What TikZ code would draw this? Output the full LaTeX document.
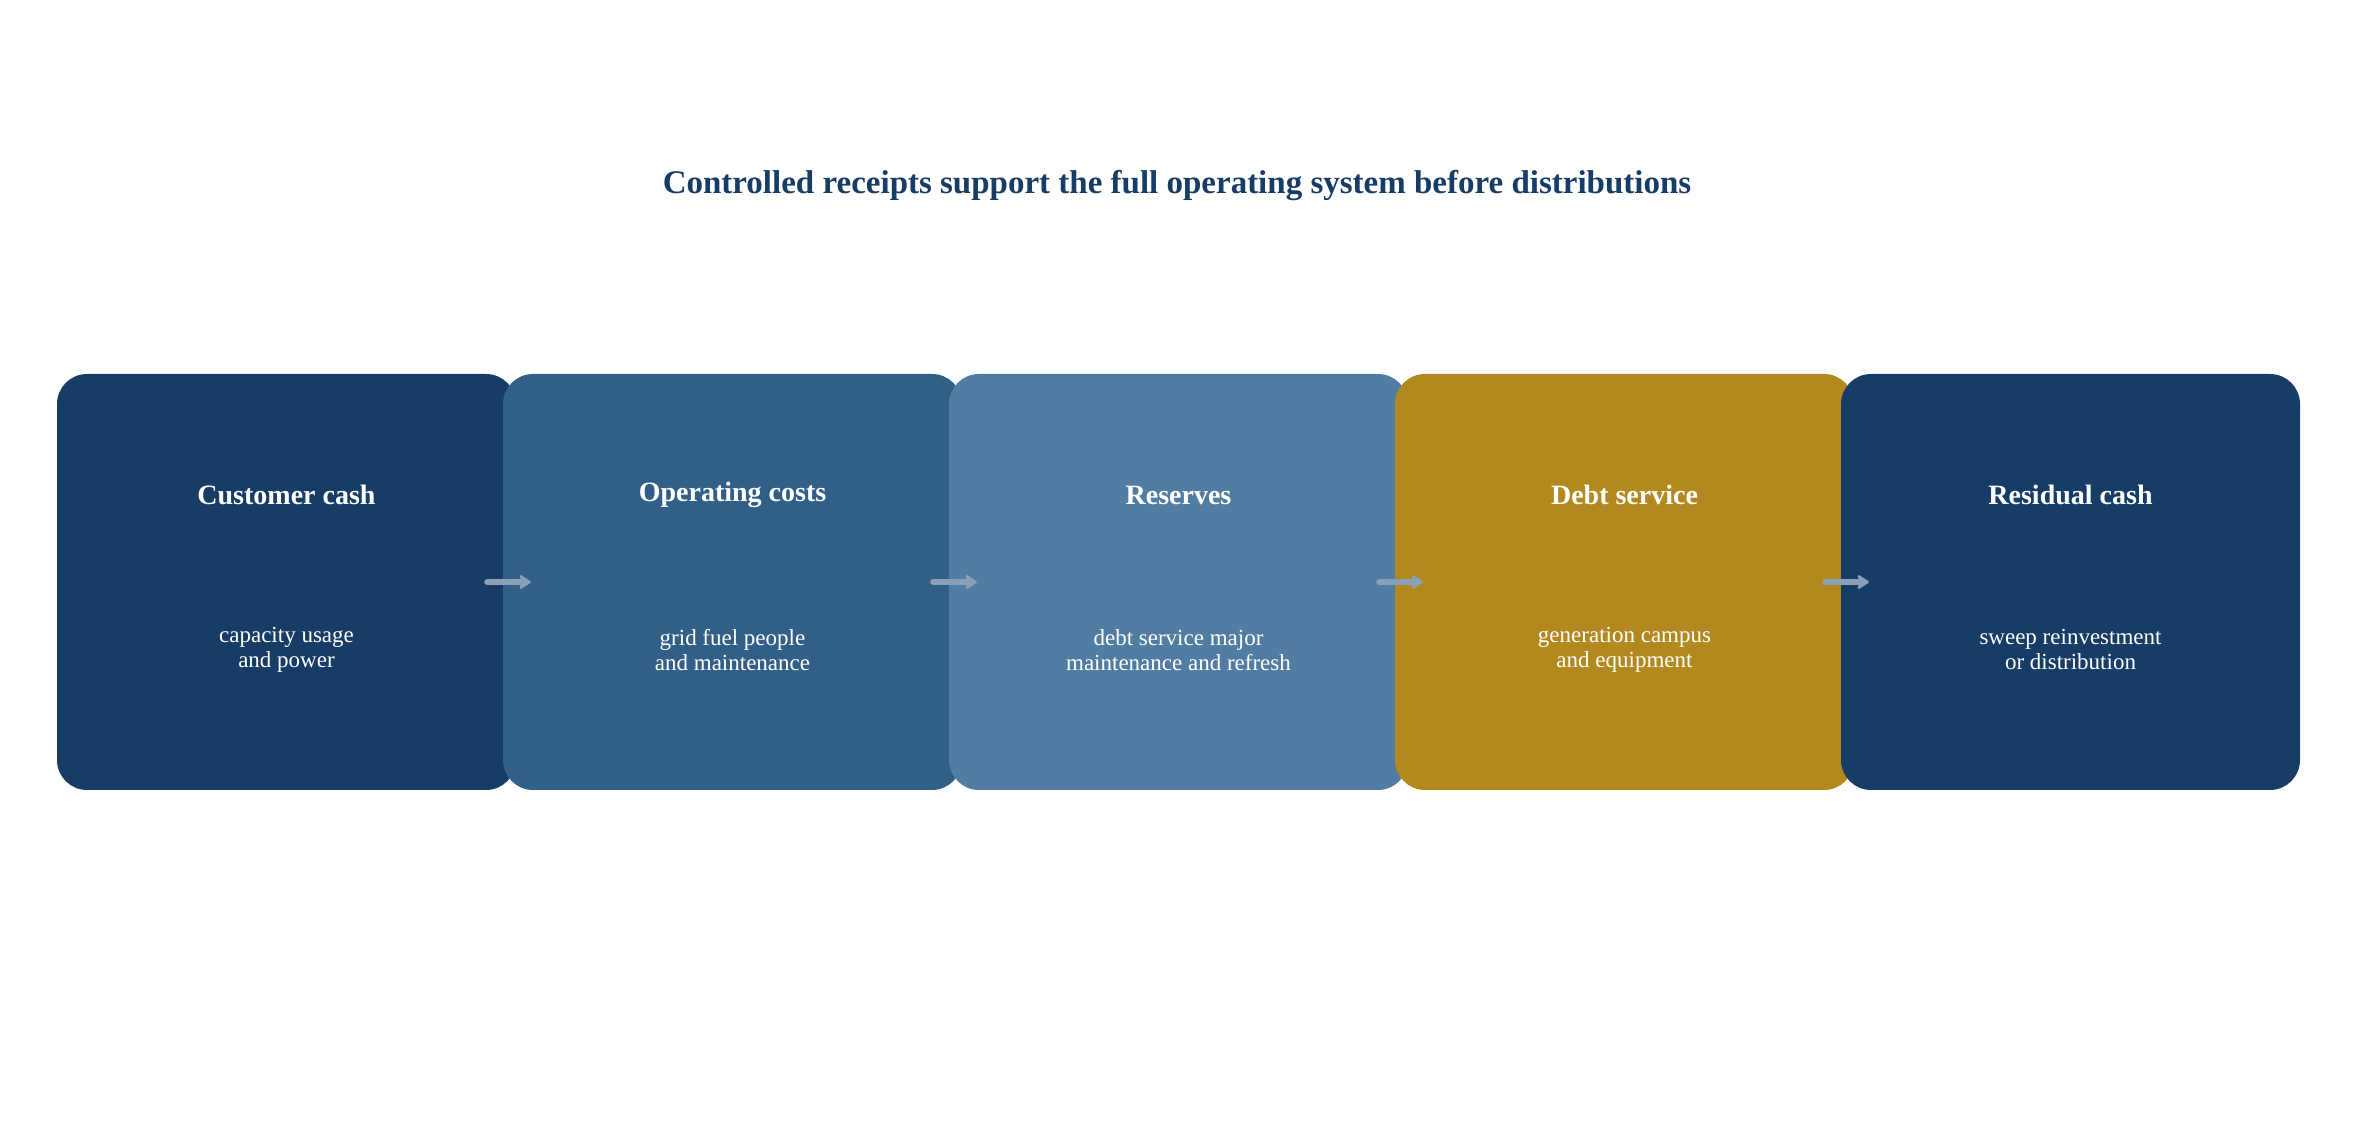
\documentclass[tikz,border=0pt]{standalone}
\usepackage{fontspec}
\setmainfont{Liberation Serif}
\usetikzlibrary{positioning,arrows.meta}
\definecolor{navy}{HTML}{173C66}
\definecolor{midblue}{HTML}{315F88}
\definecolor{lightblue}{HTML}{527DA3}
\definecolor{gold}{HTML}{B3891F}
\definecolor{arrowgrey}{HTML}{8A9FB8}
\tikzset{
  stage/.style={rounded corners=30pt, minimum width=459pt, minimum height=416pt, inner sep=0pt},
  head/.style={text=white, font=\fontsize{28}{32}\selectfont\bfseries},
  desc/.style={text=white, align=center, font=\fontsize{23}{25}\selectfont},
  flow/.style={arrowgrey, line width=6pt, line cap=round, -{Stealth[length=14pt,width=18pt,round]}}
}
\begin{document}
\begin{tikzpicture}[x=1pt,y=1pt]
\useasboundingbox (0,0) rectangle (2354,1144);

%titulo
\node (title) at (1177,958) {\fontsize{33}{38}\selectfont\bfseries\color{navy}Controlled receipts support the full operating system before distributions};

%caixas
\node[stage, fill=navy] (b1) at (286.5,562) {};
\node[stage, fill=midblue] (b2) at (732.5,562) {};
\node[stage, fill=lightblue] (b3) at (1178.5,562) {};
\node[stage, fill=gold] (b4) at (1624.5,562) {};
\node[stage, fill=navy] (b5) at (2070.5,562) {};

%textos
\node[head] (h1) at ([yshift=87pt]b1.center) {Customer cash};
\node[head] (h2) at ([yshift=87pt]b2.center) {Operating costs};
\node[head] (h3) at ([yshift=87pt]b3.center) {Reserves};
\node[head] (h4) at ([yshift=87pt]b4.center) {Debt service};
\node[head] (h5) at ([yshift=87pt]b5.center) {Residual cash};

\node[desc] (d1) at ([yshift=-68pt]b1.center) {capacity usage\\and power};
\node[desc] (d2) at ([yshift=-68pt]b2.center) {grid fuel people\\and maintenance};
\node[desc] (d3) at ([yshift=-68pt]b3.center) {debt service major\\maintenance and refresh};
\node[desc] (d4) at ([yshift=-68pt]b4.center) {generation campus\\and equipment};
\node[desc] (d5) at ([yshift=-68pt]b5.center) {sweep reinvestment\\or distribution};

%setas
\foreach \a/\b in {b1/b2,b2/b3,b3/b4,b4/b5}
  \draw[flow] ([xshift=-29pt]\a.east) -- ([xshift=28pt]\b.west);

\end{tikzpicture}
\end{document}
